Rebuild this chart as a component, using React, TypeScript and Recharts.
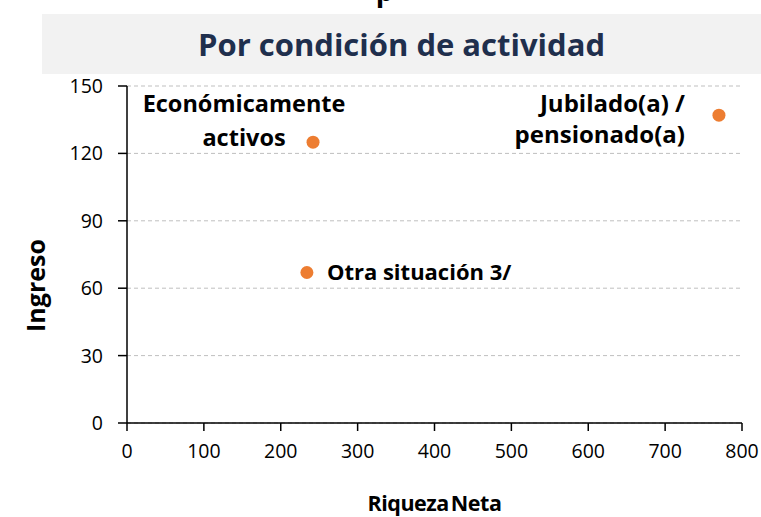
import { ScatterChart, Scatter, XAxis, YAxis, CartesianGrid, Label } from 'recharts';

// Riqueza neta vs ingreso, por condición de actividad
const grupos = ['Económicamente activos', 'Jubilado(a) / pensionado(a)', 'Otra situación 3/'];
const riquezaNeta = [242, 770, 234];
const ingreso = [125, 137, 67];
const etiquetas = [['Económicamente', 'activos'], ['Jubilado(a) /', 'pensionado(a)'], ['Otra situación 3/']];

const xTicks = [0, 100, 200, 300, 400, 500, 600, 700, 800];
const yTicks = [0, 30, 60, 90, 120, 150];

const FONT = '"Open Sans", Lato, sans-serif';
const ORANGE = '#ED7D31';

const data = grupos.map((g, i) => ({ grupo: g, x: riquezaNeta[i], y: ingreso[i], lines: etiquetas[i] }));

// where each label sits relative to its dot
const placement: Record<string, { dx: number; dy: number; anchor: 'start' | 'middle' | 'end'; lh: number; size: number }> = {
  'Económicamente activos': { dx: -69, dy: -30, anchor: 'middle', lh: 34, size: 23.5 },
  'Jubilado(a) / pensionado(a)': { dx: -34, dy: -3, anchor: 'end', lh: 31, size: 24 },
  'Otra situación 3/': { dx: 20, dy: 8, anchor: 'start', lh: 0, size: 22 },
};

function DotWithLabel(props: any) {
  const { cx, cy, payload } = props;
  const p = placement[payload.grupo];
  return (
    <g>
      <circle cx={cx} cy={cy} r={6.5} fill={ORANGE} />
      <text
        x={cx + p.dx}
        y={cy + p.dy}
        textAnchor={p.anchor}
        fontFamily={FONT}
        fontWeight={700}
        fontSize={p.size}
        fill="#000"
      >
        {payload.lines.map((l: string, i: number) => (
          <tspan key={i} x={cx + p.dx} dy={i === 0 ? 0 : p.lh}>
            {l}
          </tspan>
        ))}
      </text>
    </g>
  );
}

export default function App() {
  return (
    <div style={{ position: 'absolute', left: 0, top: 0, width: 761, height: 517, background: '#fff', overflow: 'hidden' }}>
      <div
        style={{
          position: 'absolute',
          left: 0,
          width: 761,
          top: -30,
          lineHeight: '40px',
          textAlign: 'center',
          fontFamily: FONT,
          fontWeight: 700,
          fontSize: 28,
          color: '#000',
          paddingLeft: 4,
        }}
      >
        p
      </div>
      <div
        style={{
          position: 'absolute',
          left: 42,
          top: 14,
          width: 719,
          height: 60,
          background: '#F2F2F2',
          display: 'flex',
          alignItems: 'center',
          justifyContent: 'center',
          fontFamily: FONT,
          fontWeight: 700,
          fontSize: 31,
          color: '#1F2F4D',
        }}
      >
        Por condición de actividad
      </div>
      <div style={{ position: 'absolute', left: 0, top: 0 }}>
        <ScatterChart width={761} height={517} margin={{ top: 86, right: 19, bottom: 0, left: 0 }}>
          <CartesianGrid horizontal vertical={false} stroke="#BFBFBF" strokeDasharray="4 3" />
          <XAxis
            type="number"
            dataKey="x"
            domain={[0, 800]}
            ticks={xTicks}
            height={94}
            tickSize={8}
            tickMargin={13}
            axisLine={{ stroke: '#000', strokeWidth: 1.5 }}
            tickLine={{ stroke: '#000', strokeWidth: 1.5 }}
            tick={{ fill: '#000', fontSize: 19.5, fontFamily: FONT }}
          >
            <Label
              content={({ viewBox }: any) => (
                <text
                  x={viewBox.x + viewBox.width / 2}
                  y={viewBox.y + 88}
                  textAnchor="middle"
                  fontFamily={FONT}
                  fontWeight={700}
                  fontSize={21.5}
                  letterSpacing={-0.5}
                  wordSpacing={-3}
                  fill="#000"
                >
                  Riqueza Neta
                </text>
              )}
            />
          </XAxis>
          <YAxis
            type="number"
            dataKey="y"
            domain={[0, 150]}
            ticks={yTicks}
            width={127}
            tickSize={9}
            tickMargin={15}
            axisLine={{ stroke: '#000', strokeWidth: 1.5 }}
            tickLine={{ stroke: '#000', strokeWidth: 1.5 }}
            tick={{ fill: '#000', fontSize: 19.5, fontFamily: FONT }}
          >
            <Label
              content={({ viewBox }: any) => (
                <text
                  x={45}
                  y={viewBox.y + viewBox.height / 2 + 31}
                  textAnchor="middle"
                  transform={`rotate(-90, 45, ${viewBox.y + viewBox.height / 2 + 31})`}
                  fontFamily={FONT}
                  fontWeight={700}
                  fontSize={25}
                  fill="#000"
                >
                  Ingreso
                </text>
              )}
            />
          </YAxis>
          <Scatter data={data} isAnimationActive={false} shape={DotWithLabel} />
        </ScatterChart>
      </div>
    </div>
  );
}
